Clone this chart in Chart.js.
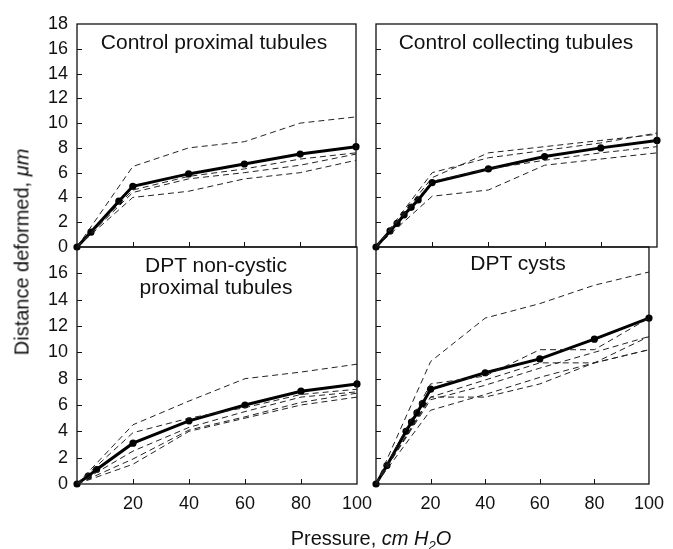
<!DOCTYPE html>
<html><head><meta charset="utf-8">
<script src="https://cdn.jsdelivr.net/npm/chart.js@4/dist/chart.umd.min.js"></script>
<style>
html,body{margin:0;padding:0;background:#fff;}
#wrap{position:relative;width:673px;height:549px;overflow:hidden;font-family:"Liberation Sans",Arial,sans-serif;color:#111;}
canvas{position:absolute;left:0;top:0;}
.t{position:absolute;white-space:nowrap;font-size:21px;line-height:22px;transform:translate(-50%,-50%);text-align:center;}
.yt{position:absolute;white-space:nowrap;font-size:20px;left:22px;top:252px;transform:translate(-50%,-50%) rotate(-90deg);}
.xt{position:absolute;white-space:nowrap;font-size:20px;left:371px;top:540px;transform:translate(-50%,-50%);}
</style></head>
<body><div id="wrap">
<canvas id="c1" width="673" height="549"></canvas>
<canvas id="c2" width="673" height="549"></canvas>
<canvas id="c3" width="673" height="549"></canvas>
<canvas id="c4" width="673" height="549"></canvas>
<div class="t" style="left:214px;top:42px">Control proximal tubules</div>
<div class="t" style="left:516px;top:42px">Control collecting tubules</div>
<div class="t" style="left:216px;top:276px">DPT non-cystic<br>proximal tubules</div>
<div class="t" style="left:518px;top:263px">DPT cysts</div>
<div class="yt">Distance deformed, <i>μm</i></div>
<div class="xt">Pressure, <i>cm H<sub style="font-size:13px">2</sub>O</i></div>
</div>
<script>
// ---- tick labels ----
const xTicks = [20, 40, 60, 80, 100];
const yTicks = [0, 2, 4, 6, 8, 10, 12, 14, 16, 18];
// ---- pressures for individual tubules ----
const pressures = [0, 20, 40, 60, 80, 100];

// Control proximal tubules
const cpIndiv1 = [0, 6.5, 8.0, 8.5, 10.0, 10.5];
const cpIndiv2 = [0, 4.6, 5.7, 6.3, 7.1, 7.6];
const cpIndiv3 = [0, 4.4, 5.5, 6.0, 6.6, 7.5];
const cpIndiv4 = [0, 4.0, 4.5, 5.5, 6.0, 7.0];
const cpMeanP = [0, 5, 15, 20, 40, 60, 80, 100];
const cpMean = [0, 1.2, 3.7, 4.9, 5.9, 6.7, 7.5, 8.1];

// Control collecting tubules
const ccIndiv1 = [0, 5.6, 7.6, 8.1, 8.6, 9.1];
const ccIndiv2 = [0, 6.0, 7.2, 7.8, 8.4, 9.2];
const ccIndiv3 = [0, 5.3, 6.3, 7.0, 7.6, 8.1];
const ccIndiv4 = [0, 4.1, 4.6, 6.6, 7.1, 7.6];
const ccMeanP = [0, 5, 7.5, 10, 12.5, 15, 20, 40, 60, 80, 100];
const ccMean = [0, 1.3, 1.9, 2.6, 3.2, 3.8, 5.2, 6.3, 7.3, 8.0, 8.6];

// DPT non-cystic proximal tubules
const dnIndiv1 = [0, 4.5, 6.3, 8.0, 8.5, 9.1];
const dnIndiv2 = [0, 3.9, 5.0, 5.8, 6.8, 7.2];
const dnIndiv3 = [0, 2.5, 4.3, 5.5, 6.6, 7.0];
const dnIndiv4 = [0, 1.9, 4.1, 5.1, 6.2, 6.9];
const dnIndiv5 = [0, 1.5, 4.0, 5.0, 6.0, 6.6];
const dnMeanP = [0, 4, 7, 20, 40, 60, 80, 100];
const dnMean = [0, 0.6, 1.1, 3.1, 4.8, 6.0, 7.05, 7.6];

// DPT cysts
const dcIndiv1 = [0, 9.3, 12.6, 13.7, 15.1, 16.1];
const dcIndiv2 = [0, 7.6, 8.2, 10.2, 10.2, 12.6];
const dcIndiv3 = [0, 6.6, 7.9, 9.2, 9.2, 10.2];
const dcIndiv4 = [0, 6.4, 7.5, 8.8, 10.0, 11.2];
const dcIndiv5 = [0, 6.6, 6.6, 7.6, 9.2, 11.2];
const dcIndiv6 = [0, 5.6, 6.8, 8.1, 9.2, 10.2];
const dcMeanP = [0, 4, 11, 13, 15, 17, 20, 40, 60, 80, 100];
const dcMean = [0, 1.4, 4.0, 4.7, 5.4, 6.1, 7.2, 8.45, 9.5, 11.0, 12.6];

const FAMILY = '"Liberation Sans", Arial, sans-serif';

const framePlugin = {
  id: 'frame',
  afterDatasetsDraw(chart) {
    const { ctx, chartArea: a, scales } = chart;
    ctx.save();
    ctx.strokeStyle = '#111';
    ctx.lineWidth = 1.3;
    ctx.strokeRect(a.left, a.top, a.right - a.left, a.bottom - a.top);
    ctx.lineWidth = 1;
    ctx.beginPath();
    scales.x.ticks.forEach(t => {
      if (t.value > 0 && t.value < 100) {
        const px = Math.round(scales.x.getPixelForValue(t.value)) + 0.5;
        ctx.moveTo(px, a.bottom); ctx.lineTo(px, a.bottom - 5);
      }
    });
    scales.y.ticks.forEach(t => {
      if (t.value > 0 && t.value < 18) {
        const py = Math.round(scales.y.getPixelForValue(t.value)) + 0.5;
        ctx.moveTo(a.left, py); ctx.lineTo(a.left + 5, py);
      }
    });
    ctx.stroke();
    ctx.restore();
  }
};

function makeChart(id, cfg) {
  const datasets = cfg.indiv.map(arr => ({
    data: arr.map((v, i) => ({ x: pressures[i], y: v })),
    borderColor: '#222', borderWidth: 1, borderDash: [6, 4],
    pointRadius: 0, fill: false, tension: 0
  }));
  datasets.push({
    data: cfg.meanP.map((p, i) => ({ x: p, y: cfg.mean[i] })),
    borderColor: '#000', borderWidth: 3, pointRadius: 3.6,
    pointBackgroundColor: '#000', pointBorderColor: '#000', pointBorderWidth: 0,
    fill: false, tension: 0, clip: false
  });
  const yw = cfg.yLabels ? 45 : 0;
  const xh = cfg.xLabels ? 40 : 0;
  new Chart(document.getElementById(id), {
    type: 'line',
    data: { datasets },
    options: {
      responsive: false, animation: false, devicePixelRatio: 1,
      layout: { padding: { left: cfg.left - yw, top: cfg.top, right: 673 - cfg.right, bottom: 549 - cfg.bottom - xh } },
      plugins: { legend: { display: false }, tooltip: { enabled: false } },
      scales: {
        x: {
          type: 'linear', min: 0, max: 100,
          afterBuildTicks: s => { s.ticks = xTicks.map(v => ({ value: v })); },
          afterFit: s => { s.height = xh; },
          grid: { display: false, drawTicks: false },
          border: { display: false },
          ticks: { display: cfg.xLabels, font: { size: 18, family: FAMILY }, color: '#111', padding: 9, maxRotation: 0, autoSkip: false }
        },
        y: {
          type: 'linear', min: 0, max: 18,
          afterBuildTicks: s => { s.ticks = yTicks.map(v => ({ value: v })); },
          afterFit: s => { s.width = yw; },
          grid: { display: false, drawTicks: false },
          border: { display: false },
          ticks: {
            display: cfg.yLabels, font: { size: 18, family: FAMILY }, color: '#111', padding: 9, autoSkip: false,
            callback: v => (cfg.hide18 && v === 18) ? '' : String(v)
          }
        }
      }
    },
    plugins: [framePlugin]
  });
}

makeChart('c1', { left: 77, top: 24, right: 356, bottom: 247, xLabels: false, yLabels: true, hide18: false,
  indiv: [cpIndiv1, cpIndiv2, cpIndiv3, cpIndiv4], meanP: cpMeanP, mean: cpMean });
makeChart('c2', { left: 376, top: 24, right: 657, bottom: 247, xLabels: false, yLabels: false, hide18: false,
  indiv: [ccIndiv1, ccIndiv2, ccIndiv3, ccIndiv4], meanP: ccMeanP, mean: ccMean });
makeChart('c3', { left: 77, top: 247, right: 357, bottom: 484, xLabels: true, yLabels: true, hide18: true,
  indiv: [dnIndiv1, dnIndiv2, dnIndiv3, dnIndiv4, dnIndiv5], meanP: dnMeanP, mean: dnMean });
makeChart('c4', { left: 376, top: 247, right: 658, bottom: 484, xLabels: true, yLabels: false, hide18: true,
  indiv: [dcIndiv1, dcIndiv2, dcIndiv3, dcIndiv4, dcIndiv5, dcIndiv6], meanP: dcMeanP, mean: dcMean });
</script>
</body></html>
